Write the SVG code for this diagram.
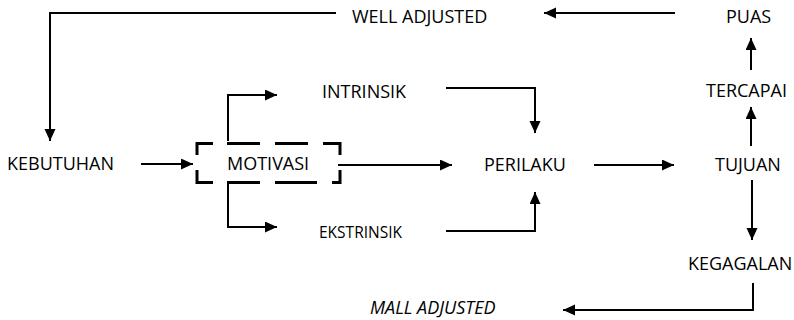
<svg xmlns="http://www.w3.org/2000/svg" width="794" height="320" viewBox="0 0 794 320">
  <style>
    .lbl { font-family: "Open Sans", "Noto Sans", "Liberation Sans", sans-serif; font-size: 18px; fill: #000; }
    .small { font-size: 15.5px; }
    .it { font-style: italic; }
    .wire { fill: none; stroke: #000; stroke-width: 2; }
    .dash { fill: none; stroke: #000; stroke-width: 3; }
  </style>
  <defs>
    <marker id="arrow" markerUnits="userSpaceOnUse" markerWidth="14" markerHeight="12" refX="12" refY="5.5" orient="auto">
      <path d="M0,0 L12,5.5 L0,11 Z" fill="#000"/>
    </marker>
  </defs>
  <rect width="794" height="320" fill="#fff"/>

  <g id="connectors">
    <path class="wire" d="M336,13 H50 V141" marker-end="url(#arrow)"/>
    <path class="wire" d="M675,13 H544" marker-end="url(#arrow)"/>
    <path class="wire" d="M751,70 V38" marker-end="url(#arrow)"/>
    <path class="wire" d="M751,146 V107" marker-end="url(#arrow)"/>
    <path class="wire" d="M141,164 H193" marker-end="url(#arrow)"/>
    <path class="wire" d="M228,141 V95 H277" marker-end="url(#arrow)"/>
    <path class="wire" d="M228,184 V227 H277" marker-end="url(#arrow)"/>
    <path class="wire" d="M446,88 H535 V133" marker-end="url(#arrow)"/>
    <path class="wire" d="M446,231 H535 V192" marker-end="url(#arrow)"/>
    <path class="wire" d="M338,165 H452" marker-end="url(#arrow)"/>
    <path class="wire" d="M594,165 H674" marker-end="url(#arrow)"/>
    <path class="wire" d="M752,180 V240" marker-end="url(#arrow)"/>
    <path class="wire" d="M753,283 V310 H563" marker-end="url(#arrow)"/>
  </g>

  <g id="well-adjusted"><text class="lbl" x="352" y="23">WELL ADJUSTED</text></g>
  <g id="puas"><text class="lbl" x="726" y="23">PUAS</text></g>
  <g id="intrinsik"><text class="lbl" x="322" y="98">INTRINSIK</text></g>
  <g id="tercapai"><text class="lbl" x="706" y="97">TERCAPAI</text></g>
  <g id="kebutuhan"><text class="lbl" x="7" y="170">KEBUTUHAN</text></g>
  <g id="motivasi">
    <path class="dash" d="M197,155 V143.5 H213 M227,143.5 H260 M275,143.5 H308 M323,143.5 H340 V155 M340,170 V182.5 H332 M317,182.5 H308 M275,182.5 H308 M227,182.5 H260 M213,182.5 H197 V170"/>
    <text class="lbl" x="227" y="170">MOTIVASI</text>
  </g>
  <g id="perilaku"><text class="lbl" x="484" y="171">PERILAKU</text></g>
  <g id="tujuan"><text class="lbl" x="715" y="171">TUJUAN</text></g>
  <g id="ekstrinsik"><text class="lbl small" x="319" y="238">EKSTRINSIK</text></g>
  <g id="kegagalan"><text class="lbl" x="688" y="270">KEGAGALAN</text></g>
  <g id="mall-adjusted"><text class="lbl it" x="370" y="314">MALL ADJUSTED</text></g>
</svg>
